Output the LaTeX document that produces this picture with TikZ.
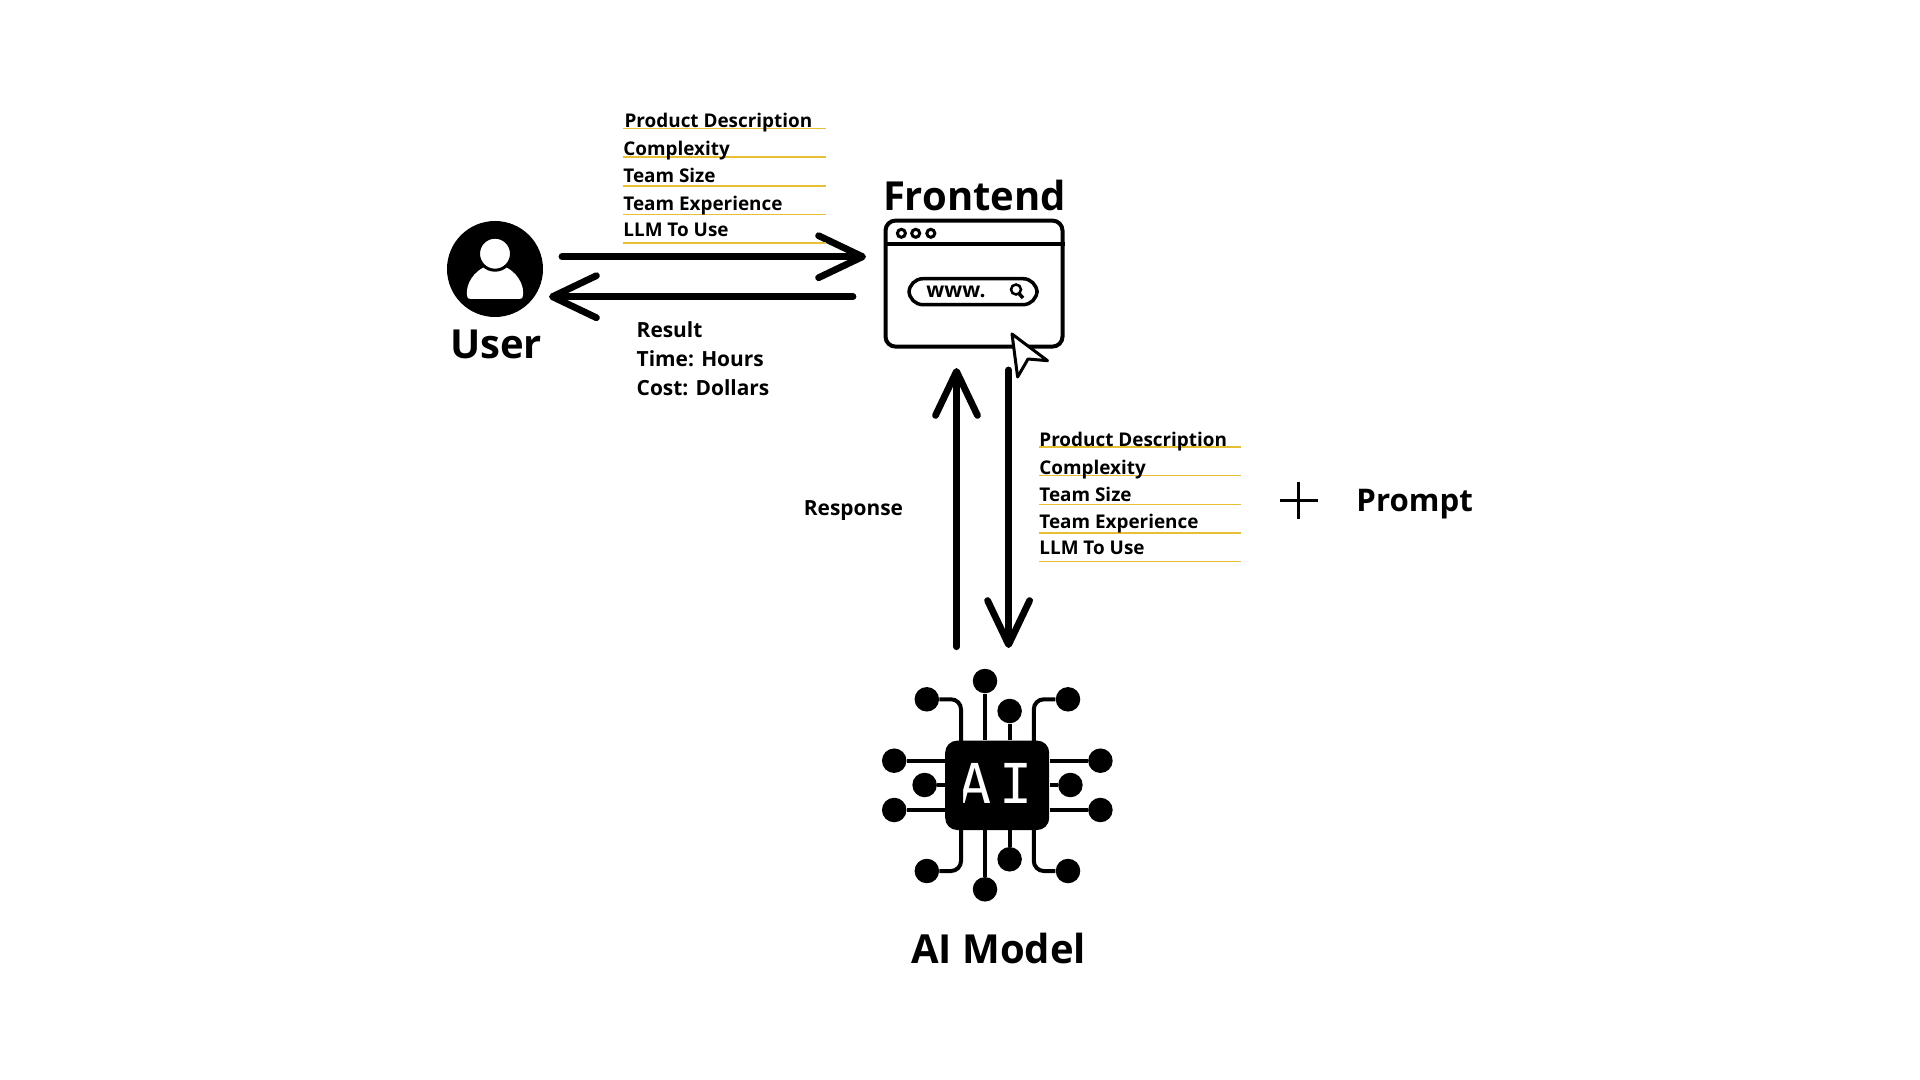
\documentclass[tikz,border=0pt]{standalone}
\usepackage{fontspec}
\setmainfont{Open Sans}
\newfontfamily\chipfont[LetterSpace=15]{DejaVu Sans Mono}
\usetikzlibrary{arrows.meta, positioning}

\begin{document}
\begin{tikzpicture}[
    x=0.5pt, y=-0.5pt, % One unit is one pixel of the reference
    flow/.style={line width=3.4pt, line cap=round, -{Straight Barb[length=22pt, width=21pt, round]}}, % Long black arrows
    item/.style={anchor=base west, inner sep=0pt, font=\fontsize{9.45pt}{11pt}\selectfont\bfseries}, % Listed fields
    result/.style={anchor=base west, inner sep=0pt, font=\fontsize{10.45pt}{12pt}\selectfont\bfseries}, % Result lines
    heading/.style={anchor=base, inner sep=0pt, font=\fontsize{20pt}{24pt}\selectfont\bfseries}, % Big labels
    rule/.style={draw=ruleyellow, line width=0.75pt}, % Yellow lines under the fields
    pin/.style={circle, fill=black, inner sep=0pt, minimum size=12.25pt}, % Chip terminals
    wire/.style={line width=2pt, rounded corners=5pt} % Chip traces
]
    \definecolor{ruleyellow}{HTML}{E8BE34}
    \useasboundingbox (0,0) rectangle (1920,1080);

    % User icon
    \node[circle, fill=black, inner sep=0pt, minimum size=48pt] (user) at (495,269) {};
    \fill[white] (471,299) .. controls (467,299) and (466.8,296) .. (466.8,293) .. controls (466.8,280) and (478,266) .. (495,264) .. controls (512,266) and (523.2,280) .. (523.2,293) .. controls (523.2,296) and (523,299) .. (519,299) -- cycle;
    \draw[fill=white, line width=1.5pt] (495,253.7) circle (16.5);
    \node[heading] (userlabel) at (496,358) {User};

    % Frontend window
    \node[draw, line width=2pt, rounded corners=5pt, inner sep=0pt, minimum width=88.5pt, minimum height=63pt] (frontend) at (974,283.6) {};
    \node[heading] (frontendlabel) at (974.5,210.5) {Frontend};
    \draw[line width=2pt] (frontend.west |- 0,244) -- (frontend.east |- 0,244);
    \foreach \dotx in {901.4, 915.7, 930.8} {
        \draw[line width=1.5pt] (\dotx,233.3) circle (4); % Window dots
    }
    \node[draw, line width=1.75pt, rounded corners=7pt, inner sep=0pt, minimum width=64pt, minimum height=13pt] (search) at (973,291.7) {};
    \node[anchor=base west, inner sep=0pt, font=\fontsize{10.5pt}{12pt}\selectfont\bfseries] (www) at (926,298) {www.};
    \draw[line width=1.25pt] (1016,289.5) circle (5);
    \draw[line width=1.75pt] (1019,293.5) -- (1023,298);
    \draw[fill=white, line width=1.5pt, line join=round] (1012,334) -- (1047.5,360.7) -- (1028,359) -- (1017.6,377) -- cycle; % Pointer

    % Arrows between user and frontend
    \coordinate (userout) at (562,256.7);
    \coordinate (frontin) at (866,256.7);
    \coordinate (frontout) at (853,296.7);
    \coordinate (userin) at (549,296.7);
    \draw[flow] (userout) -- (frontin);
    \draw[flow] (frontout) -- (userin);

    % Arrows between frontend and model
    \coordinate (modelout) at (956.5,646.7);
    \coordinate (frontup) at (956.5,368);
    \coordinate (frontdown) at (1008.6,370);
    \coordinate (modelin) at (1008.6,648);
    \draw[flow] (modelout) -- (frontup);
    \draw[flow] (frontdown) -- (modelin);

    % Fields sent by the user
    \foreach \ruley/\namey/\textx/\txt in {128.7/127.5/624.2/Product Description, 157/155.8/623/Complexity, 186/182.8/623/Team Size, 214.3/210.8/623/Team Experience, 243/236.5/623/LLM To Use} {
        \draw[rule] (623,\ruley) -- (825.5,\ruley);
        \node[item] at (\textx,\namey) {\txt};
    }

    % Result text
    \node[result] (result) at (636.3,337.7) {Result};
    \node[result] (hours) at (636.3,366.7) {Time: Hours};
    \node[result] (dollars) at (636.3,395.7) {Cost: Dollars};

    % Fields sent to the model
    \foreach \ruley/\namey/\txt in {447/446.5/Product Description, 475.7/474.3/Complexity, 504.7/501.3/Team Size, 533/528.8/Team Experience, 561.7/554.8/LLM To Use} {
        \draw[rule] (1039,\ruley) -- (1241.4,\ruley);
        \node[item] at (1039,\namey) {\txt};
    }
    \node[result] (response) at (803.5,515.3) {Response};

    % Plus and prompt
    \draw[line width=1.5pt] (1279.5,500) -- (1317.6,500);
    \draw[line width=1.5pt] (1298.4,481.7) -- (1298.4,519);
    \node[anchor=base west, inner sep=0pt, font=\fontsize{15.6pt}{18pt}\selectfont\bfseries] (prompt) at (1356,511) {Prompt};

    % AI chip
    \node[fill=black, rounded corners=6pt, inner sep=0pt, minimum width=52pt, minimum height=44.7pt] (chip) at (997.2,785.3) {};
    \node[text=white, inner sep=0pt, font=\fontsize{27.5pt}{30pt}\selectfont\chipfont] (chiptext) at (995.5,783) {AI};

    % Straight terminals
    \foreach \pinname/\pinx/\piny/\side in {a/985/681/north, b/1009.6/711/north, c/985/889.3/south, d/1009.6/859.3/south} {
        \node[pin] (\pinname) at (\pinx,\piny) {};
        \draw[wire] (\pinname) -- (\pinname |- chip.\side);
    }
    \foreach \pinname/\pinx/\piny/\side in {e/894.2/760.7/west, f/924.6/785/west, g/894.2/810/west, h/1100.4/760.7/east, i/1070.4/785/east, j/1100.4/810/east} {
        \node[pin] (\pinname) at (\pinx,\piny) {};
        \draw[wire] (\pinname) -- (\pinname -| chip.\side);
    }

    % Bent terminals
    \foreach \pinname/\pinx/\piny/\bendx in {k/926.8/699.3/961, l/1068/699.3/1033.8, m/926.8/871/961, n/1068/871/1033.8} {
        \node[pin] (\pinname) at (\pinx,\piny) {};
        \draw[wire] (\pinname) -- (\bendx,\piny) -- (\bendx,785);
    }

    \node[heading] (modellabel) at (998.5,963) {AI Model};
\end{tikzpicture}
\end{document}
